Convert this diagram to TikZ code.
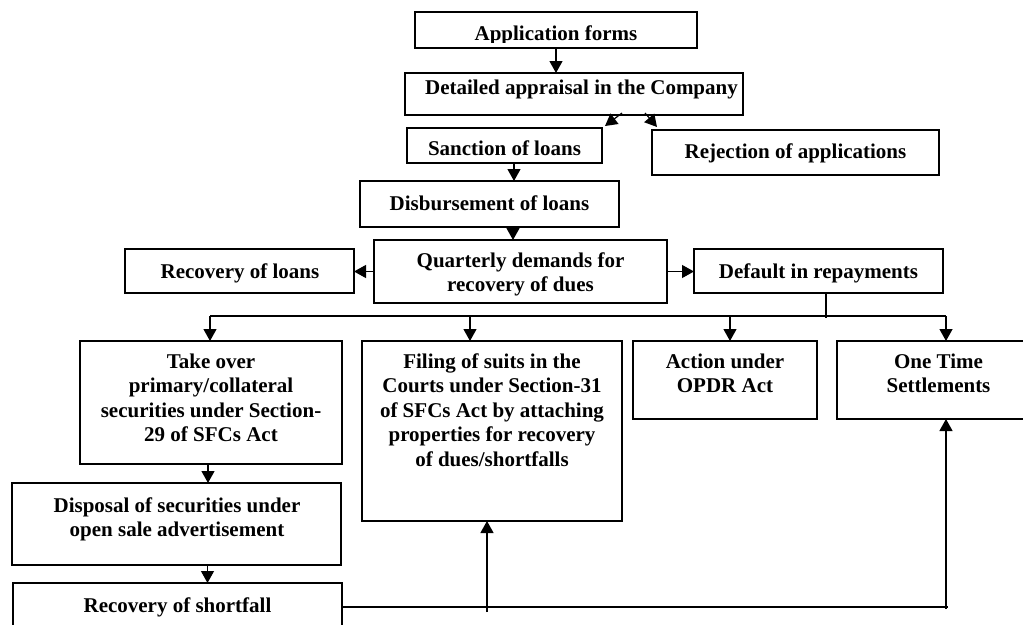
\documentclass[tikz,border=0pt]{standalone}
\usepackage{fontspec}
\setmainfont{Liberation Serif}
\usetikzlibrary{arrows.meta}
\newcommand{\ml}[1]{\begin{tabular}[t]{@{}c@{}}#1\end{tabular}}
\tikzset{
  box/.style={draw, line width=1.9pt, rectangle, inner sep=0pt, outer sep=0pt, anchor=north west},
  txt/.style={anchor=base, inner sep=0pt, font=\bfseries\fontsize{21}{24.5}\selectfont},
  arr/.style={line width=1.2pt, -{Triangle[length=12pt,width=13pt]}},
  ln/.style={line width=1.2pt},
}
\renewcommand{\arraystretch}{1}
\begin{document}
\begin{tikzpicture}[x=1pt,y=-1pt]
\useasboundingbox (0,0) rectangle (1023,624);
% boxes
\node[box, minimum width=282pt, minimum height=36pt] (app) at (415,12) {};
\node[box, minimum width=338pt, minimum height=42pt] (det) at (405,73) {};
\node[box, minimum width=195pt, minimum height=35pt] (sanc) at (407,128) {};
\node[box, minimum width=287pt, minimum height=45pt] (rej) at (652,130) {};
\node[box, minimum width=259pt, minimum height=46pt] (disb) at (360,181) {};
\node[box, minimum width=293pt, minimum height=63pt] (qd) at (374,240) {};
\node[box, minimum width=229pt, minimum height=44pt] (recl) at (125,249) {};
\node[box, minimum width=249pt, minimum height=44pt] (def) at (694,249) {};
\node[box, minimum width=262pt, minimum height=123pt] (take) at (80,341) {};
\node[box, minimum width=260pt, minimum height=180pt] (file) at (362,341) {};
\node[box, minimum width=184pt, minimum height=78pt] (opdr) at (633,341) {};
\node[box, minimum width=203pt, minimum height=78pt] (ots) at (837,341) {};
\node[box, minimum width=329pt, minimum height=82pt] (disp) at (12,483) {};
\node[box, minimum width=329pt, minimum height=57pt] (recs) at (13,583) {};
% texts
\begin{scope}
\clip (415,10) rectangle (697,42);
\node[txt] (tapp) at (556,40.5) {Application forms};
\end{scope}
\node[txt] (tdet) at (581.5,94) {Detailed appraisal in the Company};
\node[txt] (tsanc) at (504.5,155) {Sanction of loans};
\node[txt] (trej) at (795.5,158) {Rejection of applications};
\node[txt] (tdisb) at (489.5,210) {Disbursement of loans};
\node[txt] (tqd) at (520.5,267) {\ml{Quarterly demands for\\recovery of dues}};
\node[txt] (trecl) at (240,278) {Recovery of loans};
\node[txt] (tdef) at (818.5,278) {Default in repayments};
\node[txt] (ttake) at (211,368) {\ml{Take over\\primary/collateral\\securities under Section-\\29 of SFCs Act}};
\node[txt] (tfile) at (492,368) {\ml{Filing of suits in the\\Courts under Section-31\\of SFCs Act by attaching\\properties for recovery\\of dues/shortfalls}};
\node[txt] (topdr) at (725,368) {\ml{Action under\\OPDR Act}};
\node[txt] (tots) at (938.5,368) {\ml{One Time\\Settlements}};
\node[txt] (tdisp) at (177,512) {\ml{Disposal of securities under\\open sale advertisement}};
\node[txt] (trecs) at (177.5,612) {Recovery of shortfall};
% connectors
\draw[arr] (app.south) -- (app.south |- det.north);
\draw[arr] ([xshift=48pt,yshift=2pt]det.south) -- ([xshift=3pt,yshift=2pt]sanc.north east);
\draw[arr] ([xshift=71pt,yshift=2pt]det.south) -- ([xshift=5pt,yshift=3pt]rej.north west);
\draw[arr] ([xshift=9.5pt]sanc.south) -- ([xshift=9.5pt]sanc.south |- disb.north);
\draw[arr] ([xshift=23.5pt]disb.south) -- ([xshift=23.5pt]disb.south |- qd.north);
\draw[arr] (qd.west) -- (qd.west -| recl.east);
\draw[arr] (qd.east) -- (qd.east -| def.west);
\coordinate (busL) at (210,316);
\coordinate (busR) at (946,316);
\coordinate (busD) at (826,318);
\draw[ln] ([xshift=7.5pt]def.south) -- (busD);
\draw[ln] (busL) -- (busR);
\draw[arr] (busL) -- (busL |- take.north);
\draw[arr] ([xshift=-22pt]file.north |- busL) -- ([xshift=-22pt]file.north);
\draw[arr] ([xshift=5pt]opdr.north |- busL) -- ([xshift=5pt]opdr.north);
\draw[arr] (busR) -- (busR |- ots.north);
\draw[arr] ([xshift=-3pt]take.south) -- ([xshift=-3pt]take.south |- disp.north);
\draw[arr] ([xshift=31pt]disp.south) -- ([xshift=31pt]disp.south |- recs.north);
\coordinate (r1) at (948,607);
\draw[ln] (recs.east |- r1) -- (r1);
\coordinate (fb) at (487,612);
\draw[arr] (fb) -- (fb |- file.south);
\coordinate (ob) at (946,609);
\draw[arr] (ob) -- (ob |- ots.south);
\end{tikzpicture}
\end{document}
